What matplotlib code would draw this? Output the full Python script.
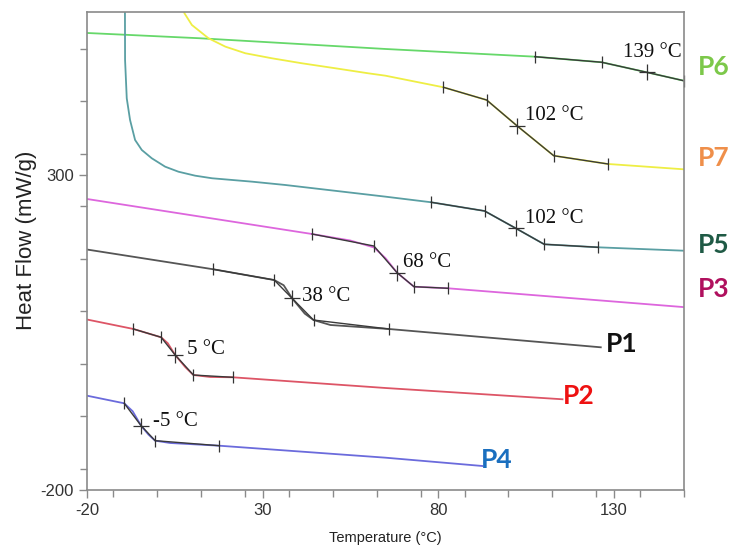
import matplotlib
matplotlib.use("Agg")
import matplotlib.pyplot as plt
from matplotlib.ticker import FixedLocator, MultipleLocator, NullFormatter

plt.rcParams["axes.unicode_minus"] = False

# ---------------- data ----------------
p6_x = [-20, 12.2, 65, 107.5, 126.6, 139.4, 150.3]
p6_y = [525.4, 517, 500, 487.8, 478.9, 463, 449.2]

p7_x = [6.9, 7.75, 9.86, 14.6, 19.4, 25.1, 32.7, 41.2, 50.7, 60.1, 65, 81.5, 93.8, 102.4, 112.9, 128.3, 150]
p7_y = [575, 556.7, 538.1, 517, 503.7, 493.2, 485.2, 477.3, 469.4, 461.4, 457.6, 439.2, 419, 378.3, 330.6, 317.5, 309]

p5_x = [-9.2, -9.16, -8.68, -7.74, -6.31, -4.4, -1.55, 2.25, 6.04, 10.8, 15.6, 27.0, 36.5, 65, 78, 93.2, 102.1, 110.2, 125.6, 150]
p5_y = [575, 482.5, 421.7, 387.3, 355.6, 339.7, 326.5, 313.2, 305.2, 298.9, 294.8, 289.4, 284.1, 265.6, 256.7, 242.9, 215.4, 190, 185.2, 179.8]

p3_x = [-20, 44.1, 55, 61.7, 65, 68.3, 73.1, 82.7, 150.6]
p3_y = [261.9, 206.3, 196, 185, 168, 144.9, 122.7, 120.2, 90.0]

p1_x = [-20, 16.0, 33.3, 36.0, 38.4, 42.0, 44.5, 49.3, 65.9, 126.3]
p1_y = [181.7, 150.3, 133.3, 125, 104.3, 80, 69.8, 61.9, 55.6, 26.5]

p2_x = [-20, -6.8, 1.1, 3.0, 5.1, 8.0, 10.3, 15.1, 21.5, 65, 115.4]
p2_y = [70.6, 55.6, 42.4, 33, 14.3, -5, -17.5, -20.6, -21.1, -38.1, -56.0]

p4_x = [-20, -9.4, -7.0, -4.6, -2.5, -0.6, 3.7, 17.7, 65, 92.6]
p4_y = [-50.3, -62.4, -75, -97.9, -112, -121.7, -125.4, -129.7, -148.7, -161.9]

# glass-transition analysis points (tangent construction)
p6_ax = [107.5, 126.6, 139.4, 150.0]
p6_ay = [487.8, 478.9, 463.0, 449.5]
p7_ax = [81.5, 93.8, 102.4, 112.9, 128.3]
p7_ay = [439.2, 419.0, 378.3, 330.6, 317.5]
p5_ax = [78.0, 93.2, 102.1, 110.2, 125.6]
p5_ay = [256.7, 242.9, 215.4, 190.0, 185.2]
p3_ax = [44.1, 61.7, 68.3, 73.1, 82.7]
p3_ay = [206.3, 187.3, 144.9, 122.7, 120.2]
p1_ax = [16.0, 33.3, 38.4, 44.5, 65.9]
p1_ay = [150.3, 133.3, 104.3, 69.8, 55.6]
p2_ax = [-6.8, 1.1, 5.1, 10.3, 21.5]
p2_ay = [55.6, 42.4, 14.3, -17.5, -21.1]
p4_ax = [-9.4, -4.6, -0.6, 17.7]
p4_ay = [-62.4, -97.9, -121.7, -129.7]

tg_labels = ["139 °C", "102 °C", "102 °C", "68 °C", "38 °C", "5 °C", "-5 °C"]
tg_label_x = [132.6, 104.6, 104.6, 70.1, 41.3, 8.5, -1.2]
tg_label_y = [494.4, 395.2, 230.2, 161.1, 107.1, 23.8, -91.3]

names = ["P6", "P7", "P5", "P3", "P1", "P2", "P4"]
name_x = [154.0, 154.0, 154.0, 154.0, 127.7, 115.5, 92.1]
name_y = [471.4, 326.2, 188.9, 118.3, 31.7, -50.8, -152.4]

x_major = [-20, 30, 80, 130]
y_major = [300, -200]

# ---------------- styling ----------------
curve_colors = ["#66d86a", "#eeee44", "#5a9fa3", "#dd66dd", "#555555", "#dd5566", "#6b6bdc"]
name_colors = ["#7cc84a", "#ef8f4a", "#1f5a45", "#b0105e", "#111111", "#ee1111", "#1a6fbf"]
tg_index = [2, 2, 2, 2, 2, 2, 1]

curves = [(p6_x, p6_y), (p7_x, p7_y), (p5_x, p5_y), (p3_x, p3_y),
          (p1_x, p1_y), (p2_x, p2_y), (p4_x, p4_y)]
analysis = [(p6_ax, p6_ay), (p7_ax, p7_ay), (p5_ax, p5_ay), (p3_ax, p3_ay),
            (p1_ax, p1_ay), (p2_ax, p2_ay), (p4_ax, p4_ay)]

fig = plt.figure(figsize=(7.3, 5.47), dpi=100)
ax = fig.add_axes([87 / 730, 57 / 547, (684 - 87) / 730, (490 - 12) / 547])

for (cx, cy), col in zip(curves, curve_colors):
    ax.plot(cx, cy, color=col, lw=1.3, solid_joinstyle="round")

for (axx, ayy), ti in zip(analysis, tg_index):
    ax.plot(axx, ayy, color="#3a3a3a", lw=1.0)
    for i, (xx, yy) in enumerate(zip(axx, ayy)):
        if i == ti:
            ax.plot([xx], [yy], marker="+", ms=11, mew=0.9, color="#333333", clip_on=False)
        else:
            ax.plot([xx], [yy], marker="|", ms=9, mew=0.9, color="#333333", clip_on=False)

for t, xx, yy in zip(tg_labels, tg_label_x, tg_label_y):
    ax.text(xx, yy, t, fontsize=15, family="Liberation Serif", color="#111111",
            ha="left", va="center", clip_on=False)

for n, xx, yy, c in zip(names, name_x, name_y, name_colors):
    ax.text(xx, yy, n, fontsize=19, family="Lato", weight="bold", color=c,
            ha="left", va="center", clip_on=False)

ax.set_xlim(-20, 150)
ax.set_ylim(-200, 558.7)
ax.xaxis.set_major_locator(FixedLocator(x_major))
ax.xaxis.set_minor_locator(MultipleLocator(12.5))
ax.yaxis.set_major_locator(FixedLocator(y_major))
ax.yaxis.set_minor_locator(MultipleLocator(500 / 6))
ax.yaxis.set_minor_formatter(NullFormatter())
ax.xaxis.set_minor_formatter(NullFormatter())

for s in ax.spines.values():
    s.set_color("#8a8a8a")
    s.set_linewidth(1.2)

ax.tick_params(which="both", direction="out", color="#8a8a8a", width=1.0,
               labelsize=12, labelcolor="#333333")
ax.tick_params(which="major", length=6)
ax.tick_params(which="minor", length=5)
for lab in ax.get_xticklabels() + ax.get_yticklabels():
    lab.set_family("Liberation Sans")

ax.set_xlabel("Temperature (°C)", fontsize=10.5, family="Liberation Sans",
              color="#222222", labelpad=9)
ax.set_ylabel("Heat Flow (mW/g)", fontsize=16, family="Liberation Sans",
              color="#222222")
ax.yaxis.set_label_coords(-0.084, 0.523)

fig.savefig("out.png", dpi=100)
